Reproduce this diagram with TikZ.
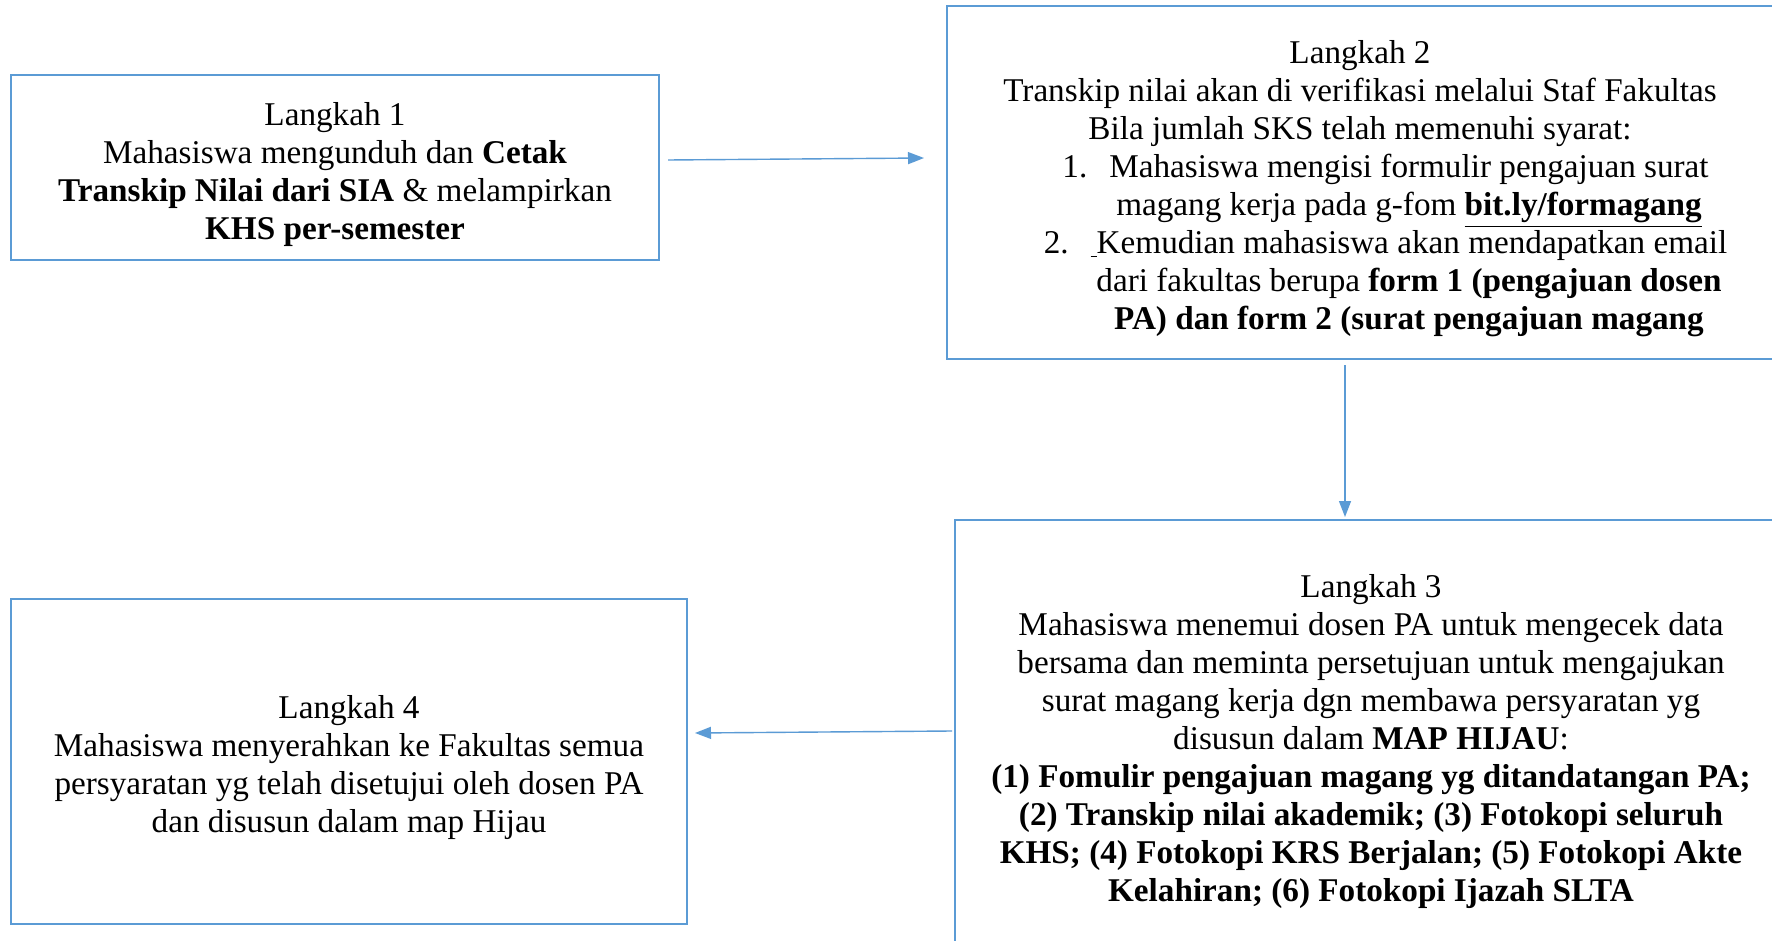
\documentclass[tikz,border=0pt]{standalone}
\usepackage{fontspec}
\setmainfont{Liberation Serif}
\usepackage{xcolor}
\definecolor{BoxBorder}{RGB}{91,155,213}
\definecolor{ArrowColor}{RGB}{91,155,213}
\usepackage{tikz}
\usetikzlibrary{
  positioning,
  arrows.meta,
  calc
}
\tikzset{
  % Step box
  stepbox/.style={
    rectangle,
    draw=BoxBorder,
    line width=1pt,
    align=center,
    inner sep=0pt,
    font=\fontsize{16.6}{19}\selectfont
  },
  % Flow arrow
  flowarrow/.style={
    draw=ArrowColor,
    line width=0.7pt,
    -{Triangle[length=8pt,width=6pt]}
  }
}
% first line strut: drops the text block a little inside its box
\newcommand{\topstrut}{\rule{0pt}{18pt}}
\newcommand{\listitem}[2]{\hspace*{49pt}\llap{#1\hspace{11pt}}#2}
\newcommand{\listline}[1]{\hspace*{49pt}#1}

\begin{document}
\begin{tikzpicture}[x=0.5pt,y=-0.5pt]
  \useasboundingbox (0,0) rectangle (1772,941);
  \fill[white] (0,0) rectangle (1772,941);
  \clip (0,0) rectangle (1772,941);

  \node[stepbox, minimum width=324pt, minimum height=92.5pt] (b1) at (335,168)
    {\topstrut Langkah 1\\
     Mahasiswa mengunduh dan \textbf{Cetak}\\
     \textbf{Transkip Nilai dari SIA} \& melampirkan\\
     \textbf{KHS per-semester}};

  \node[stepbox, minimum width=413pt, minimum height=176.5pt] (b2) at (1360,182.5)
    {\topstrut Langkah 2\\
     Transkip nilai akan di verifikasi melalui Staf Fakultas\\
     Bila jumlah SKS telah memenuhi syarat:\\
     \listitem{1.}{Mahasiswa mengisi formulir pengajuan surat}\\
     \listline{magang kerja pada g-fom \textbf{\underline{bit.ly/formagang}}}\\
     \listitem{2.}{\underline{\hspace{3pt}}Kemudian mahasiswa akan mendapatkan email}\\
     \listline{dari fakultas berupa \textbf{form 1 (pengajuan dosen}}\\
     \listline{\textbf{PA) dan form 2 (surat pengajuan magang}}};

  \node[stepbox, minimum width=416pt, minimum height=215pt] (b3) at (1371,735)
    {\topstrut Langkah 3\\
     Mahasiswa menemui dosen PA untuk mengecek data\\
     bersama dan meminta persetujuan untuk mengajukan\\
     surat magang kerja dgn membawa persyaratan yg\\
     disusun dalam \textbf{MAP HIJAU}:\\
     \textbf{(1) Fomulir pengajuan magang yg ditandatangan PA;}\\
     \textbf{(2) Transkip nilai akademik; (3) Fotokopi seluruh}\\
     \textbf{KHS; (4) Fotokopi KRS Berjalan; (5) Fotokopi Akte}\\
     \textbf{Kelahiran; (6) Fotokopi Ijazah SLTA}};

  \node[stepbox, minimum width=338pt, minimum height=162.5pt] (b4) at (349,761.5)
    {\topstrut Langkah 4\\
     Mahasiswa menyerahkan ke Fakultas semua\\
     persyaratan yg telah disetujui oleh dosen PA\\
     dan disusun dalam map Hijau};

  \draw[flowarrow] ($(b1.east)+(8,-8)$) -- ($(b2.west)+(-22,-24.5)$);
  \draw[flowarrow] ($(b2.south)+(-15,5)$) -- ($(b3.north)+(-26,-2)$);
  \draw[flowarrow] ($(b3.west)+(-2,-4)$) -- ($(b4.east)+(7,-28.5)$);
\end{tikzpicture}
\end{document}
